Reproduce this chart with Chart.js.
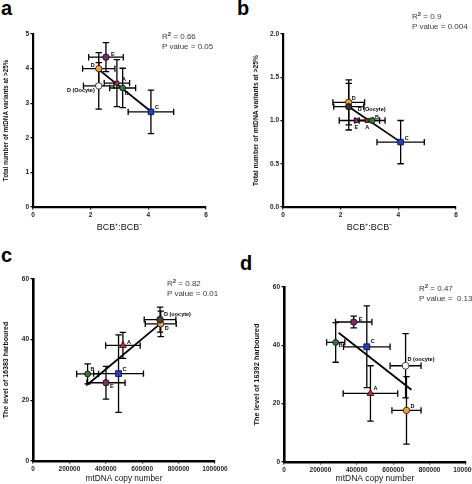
<!DOCTYPE html>
<html><head><meta charset="utf-8">
<script src="https://cdn.jsdelivr.net/npm/chart.js@4.4.0/dist/chart.umd.min.js"></script>
<style>
body{margin:0;background:#fff;width:472px;height:484px;position:relative;overflow:hidden;font-family:"Liberation Sans",Arial,sans-serif}
canvas{position:absolute}
.letter{position:absolute;font-weight:bold;font-size:20px;line-height:20px;color:#000}
.stat{position:absolute;font-size:8px;line-height:9px;color:#3a3a3a;white-space:nowrap;will-change:transform;-webkit-font-smoothing:antialiased}
.stat b{font-size:6px;position:relative;top:-3px}
</style></head><body>
<div class="letter" style="left:1px;top:-2px">a</div>
<div class="letter" style="left:237px;top:-2px">b</div>
<div class="letter" style="left:1px;top:245px">c</div>
<div class="letter" style="left:240px;top:253px">d</div>
<div class="stat" style="left:162px;top:32px">R<b>2</b> = 0.66<br>P value = 0.05</div>
<div class="stat" style="left:412px;top:12px">R<b>2</b> = 0.9<br>P value = 0.004</div>
<div class="stat" style="left:167px;top:279px">R<b>2</b> = 0.82<br>P value = 0.01</div>
<div class="stat" style="left:419px;top:284px">R<b>2</b> = 0.47<br>P value =&nbsp; 0.13</div>
<canvas id="ca" width="236" height="242" style="left:0;top:0"></canvas>
<canvas id="cb" width="236" height="242" style="left:236px;top:0"></canvas>
<canvas id="cc" width="236" height="242" style="left:0;top:242px"></canvas>
<canvas id="cd" width="250" height="242" style="left:236px;top:242px"></canvas>
<script>
// ---------- DATA ----------
const groups = ['A','B','C','D','D (Oocyte)','E'];
const groupsCD = ['A','B','C','D','D (oocyte)','E'];

// Panel a: BCB+:BCB- ratio vs total number of mtDNA variants at >25%
const aX    = [2.91, 3.11, 4.09, 2.28, 2.28, 2.53];
const aXErr = [0.44, 0.45, 0.79, 0.56, 0.53, 0.60];
const aY    = [3.58, 3.44, 2.75, 4.00, 3.50, 4.33];
const aYErr = [0.68, 0.57, 0.63, 0.46, 0.67, 0.42];
const aFitX = [2.28, 4.09];
const aFitY = [3.97, 2.76];

// Panel b
const bX    = [2.92, 3.09, 4.08, 2.28, 2.28, 2.54];
const bXErr = [0.43, 0.45, 0.82, 0.55, 0.52, 0.59];
const bY    = [1.00, 1.00, 0.75, 1.21, 1.16, 1.00];
const bYErr = [0, 0, 0.25, 0.26, 0.27, 0];
const bFitX = [2.28, 4.08];
const bFitY = [1.16, 0.75];

// Panel c: mtDNA copy number vs level of 16383
const cX    = [494000, 300000, 470000, 702000, 698000, 401000];
const cXErr = [95000, 60000, 137000, 85000, 87000, 105000];
const cY    = [38.1, 28.7, 28.8, 45.2, 46.6, 25.8];
const cYErr = [4.3, 3.3, 12.8, 4.2, 4.1, 5.4];
const cFitX = [300000, 700000];
const cFitY = [25.2, 45.3];

// Panel d: mtDNA copy number vs level of 16392
const dX    = [475000, 284000, 455000, 673000, 668000, 383000];
const dXErr = [150000, 50000, 128000, 80000, 85000, 100000];
const dY    = [23.5, 41.0, 39.5, 17.7, 33.0, 48.0];
const dYErr = [9.5, 6.8, 14.0, 11.6, 11.0, 2.0];
const dFitX = [300000, 700000];
const dFitY = [44.3, 24.8];

const ratioTicks = [0, 2, 4, 6];
const copyTicks = [0, 200000, 400000, 600000, 800000, 1000000];

// ---------- STYLE ----------
const FONT = '"Liberation Sans", Arial, sans-serif';
const colA = '#c42a2e', colB = '#2f7a32', colC = '#1d3fd6', colD = '#f5a23a', colE = '#7a2a6e';

const errBars = {
  id: 'errBars',
  beforeDatasetsDraw(chart) {
    const ctx = chart.ctx, xs = chart.scales.x, ys = chart.scales.y;
    const ds = chart.data.datasets[0];
    const cap = 3.2;
    ctx.save();
    ctx.strokeStyle = '#000';
    ctx.lineWidth = 1.3;
    ds.data.forEach((p, j) => {
      const px = xs.getPixelForValue(p.x), py = ys.getPixelForValue(p.y);
      const ex = ds.xErr[j], ey = ds.yErr[j];
      ctx.beginPath();
      if (ex > 0) {
        const l = xs.getPixelForValue(p.x - ex), r = xs.getPixelForValue(p.x + ex);
        ctx.moveTo(l, py); ctx.lineTo(r, py);
        ctx.moveTo(l, py - cap); ctx.lineTo(l, py + cap);
        ctx.moveTo(r, py - cap); ctx.lineTo(r, py + cap);
      }
      if (ey > 0) {
        const t = ys.getPixelForValue(p.y + ey), b = ys.getPixelForValue(p.y - ey);
        ctx.moveTo(px, t); ctx.lineTo(px, b);
        ctx.moveTo(px - cap, t); ctx.lineTo(px + cap, t);
        ctx.moveTo(px - cap, b); ctx.lineTo(px + cap, b);
      }
      ctx.stroke();
    });
    ctx.restore();
  }
};

const ptLabels = {
  id: 'ptLabels',
  afterDatasetsDraw(chart) {
    const ctx = chart.ctx, ds = chart.data.datasets[0];
    const meta = chart.getDatasetMeta(0);
    ctx.save();
    ctx.fillStyle = '#000';
    ctx.font = 'bold 5.5px ' + FONT;
    ctx.textBaseline = 'middle';
    meta.data.forEach((el, j) => {
      const o = ds.labelOffsets[j];
      ctx.textAlign = o[2] || 'left';
      ctx.fillText(ds.names[j], el.x + o[0], el.y + o[1]);
    });
    ctx.restore();
  }
};

function pts(xs, ys) { return xs.map((x, i) => ({x: x, y: ys[i]})); }

function axis(cfg) {
  return {
    type: 'linear',
    min: cfg.min, max: cfg.max,
    afterBuildTicks: s => { s.ticks = cfg.ticks.map(v => ({value: v})); },
    afterFit: s => { if (cfg.w !== undefined) s.width = cfg.w; if (cfg.h !== undefined) s.height = cfg.h; },
    grid: {drawOnChartArea: false, drawTicks: true, tickLength: 2.5, color: '#000', lineWidth: 1.2},
    border: {display: true, color: '#000', width: cfg.bw || 2.2},
    ticks: {
      padding: 1.5, color: '#222', maxRotation: 0, autoSkip: false,
      font: {family: FONT, size: cfg.tickSize || 6.5, weight: 'bold'},
      callback: cfg.fmt || (v => String(v))
    },
    title: {
      display: true, text: cfg.title, color: '#111',
      font: {family: FONT, size: cfg.titleSize, weight: cfg.titleWeight || 'normal', lineHeight: 1.2},
      padding: cfg.titlePad
    }
  };
}

function makeChart(id, o) {
  new Chart(document.getElementById(id), {
    type: 'scatter',
    data: {
      datasets: [
        {
          data: pts(o.x, o.y),
          xErr: o.xErr, yErr: o.yErr, names: o.names, labelOffsets: o.labelOffsets,
          pointStyle: o.styles, pointRadius: o.radii, pointBackgroundColor: o.colors,
          pointBorderColor: '#000', pointBorderWidth: 0.7, order: 0
        },
        {
          data: pts(o.fitX, o.fitY), showLine: true, pointRadius: 0,
          borderColor: '#000', borderWidth: 1.8, order: 1
        }
      ]
    },
    options: {
      responsive: false, animation: false, events: [],
      layout: {padding: o.pad},
      plugins: {legend: {display: false}, tooltip: {enabled: false}},
      scales: {x: axis(o.xAxis), y: axis(o.yAxis)}
    },
    plugins: [errBars, ptLabels]
  });
}

const yTitleAB = 'Total number of mtDNA variants at >25%';
const xTitleAB = 'BCB\u207A:BCB\u207B';

makeChart('ca', {
  x: aX, y: aY, xErr: aXErr, yErr: aYErr, fitX: aFitX, fitY: aFitY, names: groups,
  styles: ['rect', 'circle', 'rect', 'circle', 'circle', 'circle'],
  radii: [2.8, 3, 4, 3.2, 3.2, 3.2],
  colors: [colA, colB, colC, colD, '#fff', colE],
  labelOffsets: [[5, -4], [2, 6], [4, -4], [-4, -3, 'right'], [-4, 5, 'right'], [5, -3]],
  pad: {left: 1, top: 34, right: 30, bottom: 0},
  xAxis: {min: 0, max: 6, ticks: ratioTicks, h: 35, title: xTitleAB, titleSize: 9, titlePad: {top: 0, bottom: 9}},
  yAxis: {min: 0, max: 5, ticks: [0, 1, 2, 3, 4, 5], w: 32, title: yTitleAB, titleSize: 6.3, titleWeight: 'bold', titlePad: {top: 1, bottom: 0}}
});

makeChart('cb', {
  x: bX, y: bY, xErr: bXErr, yErr: bYErr, fitX: bFitX, fitY: bFitY, names: groups,
  styles: ['rect', 'circle', 'rect', 'circle', 'circle', 'rect'],
  radii: [3, 3, 4, 3.2, 3.2, 3],
  colors: ['#8a2a26', colB, colC, colD, '#333', colE],
  labelOffsets: [[0, 7, 'center'], [3, -3], [4, -4], [3, -4], [9, 3], [0, 7, 'center']],
  pad: {left: 16, top: 34, right: 16, bottom: 0},
  xAxis: {min: 0, max: 6, ticks: ratioTicks, h: 35, title: xTitleAB, titleSize: 9, titlePad: {top: 0, bottom: 9}},
  yAxis: {min: 0, max: 2, ticks: [0, 0.5, 1, 1.5, 2], w: 31, title: yTitleAB, titleSize: 6.8, titleWeight: 'bold', titlePad: {top: 0.5, bottom: 0}, fmt: v => Number(v).toFixed(1)}
});

makeChart('cc', {
  x: cX, y: cY, xErr: cXErr, yErr: cYErr, fitX: cFitX, fitY: cFitY, names: groupsCD,
  styles: ['triangle', 'circle', 'rect', 'circle', 'circle', 'circle'],
  radii: [4, 3, 4.2, 3.2, 3.4, 3.2],
  colors: [colA, colB, colC, colD, '#444', colE],
  labelOffsets: [[4, -3], [3, -4], [4, -4], [4, 5], [4, -5], [4, 4]],
  pad: {left: 1, top: 37, right: 21, bottom: 0},
  xAxis: {min: 0, max: 1000000, ticks: copyTicks, h: 23, title: 'mtDNA copy number', titleSize: 8.3, titlePad: {top: 0, bottom: 0}, bw: 2.6},
  yAxis: {min: 0, max: 60, ticks: [0, 20, 40, 60], w: 32, title: 'The level of 16383 harboured', titleSize: 7, titleWeight: 'bold', titlePad: {top: 1, bottom: 0}, bw: 2.6}
});

makeChart('cd', {
  x: dX, y: dY, xErr: dXErr, yErr: dYErr, fitX: dFitX, fitY: dFitY, names: groupsCD,
  styles: ['triangle', 'circle', 'rect', 'circle', 'circle', 'circle'],
  radii: [4, 3, 4.2, 3.2, 3.4, 3.2],
  colors: [colA, colB, colC, colD, '#fff', colE],
  labelOffsets: [[3, -5], [3, 3], [4, -5], [4, -4], [2, -6], [5, -3]],
  pad: {left: 16, top: 45, right: 20, bottom: 0},
  xAxis: {min: 0, max: 1000000, ticks: copyTicks, h: 22, title: 'mtDNA copy number', titleSize: 8.5, titlePad: {top: 0, bottom: 0}, bw: 2.6},
  yAxis: {min: 0, max: 60, ticks: [0, 20, 40, 60], w: 32, title: 'The level of 16392 harboured', titleSize: 7.4, titleWeight: 'bold', titlePad: {top: 0.5, bottom: 0}, bw: 2.6}
});
</script>
</body></html>
